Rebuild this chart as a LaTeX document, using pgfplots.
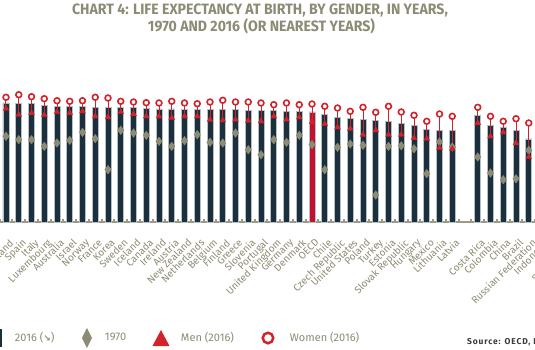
\documentclass[border=0pt]{standalone}
\usepackage{fontspec}
\usepackage{pgfplots}
\pgfplotsset{compat=1.18}
\usepackage{pgfplotstable}
\setmainfont{Fira Sans}
\newfontfamily\titlefont[FakeStretch=0.94]{Fira Sans}
\newfontfamily\srcfont[LetterSpace=10]{Fira Sans}
\newfontfamily\symfont{DejaVu Sans}
\definecolor{navy}{HTML}{1B2F3C}
\definecolor{baredge}{HTML}{B4C0C8}
\definecolor{oecdred}{HTML}{C4102F}
\definecolor{mred}{HTML}{D1232A}
\definecolor{olive}{HTML}{8D8B73}
\definecolor{axcol}{HTML}{9C9A82}
\definecolor{srcgray}{HTML}{3A3A3A}

\pgfplotstableread{
k total women men y1970
0 84.10 87.10 81.00 72.00
1 83.67 85.57 81.77 72.57
2 83.43 86.43 79.77 71.43
3 83.43 85.77 80.33 71.43
4 82.77 85.10 79.67 69.23
5 82.57 84.43 80.67 70.33
6 82.57 84.23 80.33 71.23
7 82.57 84.43 80.90 73.90
8 82.33 85.57 79.23 71.77
9 82.33 85.33 78.90 61.43
10 82.33 84.23 80.67 74.57
11 82.33 84.00 80.00 73.67
12 81.77 83.77 79.23 72.90
13 81.67 83.67 79.23 70.90
14 81.67 84.23 78.67 69.23
15 81.43 83.67 79.23 71.10
16 81.43 83.43 79.23 73.10
17 81.43 84.00 78.10 70.57
18 81.43 84.57 77.90 70.33
19 81.43 84.00 78.10 73.67
20 81.23 84.00 77.77 68.10
21 81.10 83.67 77.57 66.43
22 81.10 83.10 79.23 71.43
23 80.90 83.67 78.10 70.57
24 80.90 83.10 78.90 72.90
25 80.67 83.33 77.33 69.77
26 79.77 82.57 76.67 61.43
27 78.90 82.00 75.57 68.90
28 78.43 80.90 75.10 70.00
29 78.10 82.23 73.10 69.57
30 77.90 80.57 74.57 53.00
31 77.57 82.57 73.10 69.23
32 77.00 80.67 73.10 69.43
33 76.10 79.57 72.00 68.43
34 75.00 77.57 71.77 60.10
35 74.57 80.00 68.67 70.67
36 74.57 79.23 68.43 69.00
38 79.43 82.23 77.00 65.67
39 76.10 79.23 72.57 60.33
40 75.67 77.57 73.90 58.10
41 74.57 78.43 70.33 58.43
42 71.67 77.00 65.67 67.90
43 69.00 71.20 67.00 55.00
44 68.30 69.90 66.90 47.70
45 62.90 66.20 59.50 52.60
}\data

\pgfplotstableread{
k total
25 80.67
}\oecd

\begin{document}
\begin{tikzpicture}[x=1pt,y=1pt]
\path[use as bounding box] (0,0) rectangle (535,349);
\clip (0,0) rectangle (535,349);
\node[anchor=base, font=\fontsize{15}{17}\titlefont\bfseries, text=olive, inner sep=0pt] at (260,334.7) {CHART 4: LIFE EXPECTANCY AT BIRTH, BY GENDER, IN YEARS,};
\node[anchor=base, font=\fontsize{15}{17}\titlefont\bfseries, text=olive, inner sep=0pt] at (261.5,317.3) {1970 AND 2016 (OR NEAREST YEARS)};
\node[anchor=base west, font=\fontsize{8.5}{9}\srcfont\bfseries, text=srcgray, inner sep=0pt] at (467,5) {Source: OECD, Health at a Glance 2017};
\begin{axis}[
  at={(-25.875pt,127pt)}, anchor=south west,
  x=12.75pt, y=3pt,
  xmin=-1.5, xmax=47, ymin=44, ymax=95,
  axis x line*=bottom, axis y line*=none,
  ytick=\empty,
  x axis line style={draw=axcol, line width=2pt},
  xtick={0,...,36,38,39,40,41,42,43,44,45},
  xticklabels={Japan,Switzerland,Spain,Italy,Luxembourg,Australia,Israel,Norway,France,Korea,Sweden,Iceland,Canada,Ireland,Austria,New Zealand,Netherlands,Belgium,Finland,Greece,Slovenia,Portugal,United Kingdom,Germany,Denmark,OECD,Chile,Czech Republic,United States,Poland,Turkey,Estonia,Slovak Republic,Hungary,Mexico,Lithuania,Latvia,Costa Rica,Colombia,China,Brazil,Russian Federation,Indonesia,India,South Africa},
  major tick length=0pt,
  minor xtick={-0.5,0.5,...,46.5},
  minor tick length=3pt,
  tick align=inside,
  minor tick style={draw=axcol, line width=2pt},
  xticklabel style={font=\fontsize{10}{11}\selectfont, text=olive, anchor=north east, inner sep=0pt, xshift=2.5pt, yshift=-16pt, rotate=45},
  legend columns=4,
  legend cell align=left,
  legend style={at={(0.02486,-0.75817)}, anchor=west, draw=none, fill=none, inner sep=0pt, outer sep=0pt, column sep=0pt, row sep=0pt, nodes={inner sep=0pt, outer sep=0pt, text=olive, font=\fontsize{11}{12}\selectfont}},
]
\addplot[ybar, bar width=6pt, bar shift=0pt, fill=navy, draw=baredge, line width=0.8pt,
  legend image code/.code={\fill[navy, draw=none] (-4.5pt,-9pt) rectangle (2.5pt,9pt); \path[draw=none, fill=none] (-10pt,0pt) -- (15.5pt,0pt);}]
  table[x=k, y=total] {\data};
\addlegendentry{\makebox[62pt][l]{2016 ({\symfont\bfseries\small ↘})}}
\addplot[ybar, bar width=6pt, bar shift=0pt, fill=oecdred, draw=baredge, line width=0.8pt, forget plot]
  table[x=k, y=total] {\oecd};
\addplot[only marks, mark=diamond*, mark size=4.3pt, mark options={fill=olive, draw=olive, line width=0.3pt},
  legend image code/.code={\fill[olive, draw=none] (0,10pt) -- (5pt,0pt) -- (0,-10pt) -- (-5pt,0pt) -- cycle; \path[draw=none, fill=none] (-10pt,0pt) -- (18pt,0pt);}]
  table[x=k, y=y1970] {\data};
\addlegendentry{\makebox[46pt][l]{1970}}
\addplot[draw=none, mark=none, forget plot,
  error bars/.cd, y dir=minus, y explicit, error mark=none,
  error bar style={draw=mred, solid, line width=1pt}]
  table[x=k, y=women, y error expr=\thisrow{women}-\thisrow{men}] {\data};
\addplot[only marks, mark=triangle*, mark size=3.5pt, mark options={fill=mred, draw=mred, line width=0.2pt},
  legend image code/.code={\fill[mred, draw=none] (-8.5pt,-8pt) -- (8.5pt,-8pt) -- (0,8pt) -- cycle; \path[draw=none, fill=none] (-10pt,0pt) -- (20pt,0pt);}]
  table[x=k, y=men] {\data};
\addlegendentry{\makebox[77pt][l]{Men (2016)}}
\addplot[only marks, mark=*, mark size=2.9pt, mark options={fill=white, draw=mred, line width=1.6pt},
  legend image code/.code={\draw[mred, line width=2.5pt, fill=white] (0,0) circle (5.25pt); \path[draw=none, fill=none] (-10pt,0pt) -- (22pt,0pt);}]
  table[x=k, y=women] {\data};
\addlegendentry{\makebox[80pt][l]{Women (2016)}}
\end{axis}
\end{tikzpicture}
\end{document}
